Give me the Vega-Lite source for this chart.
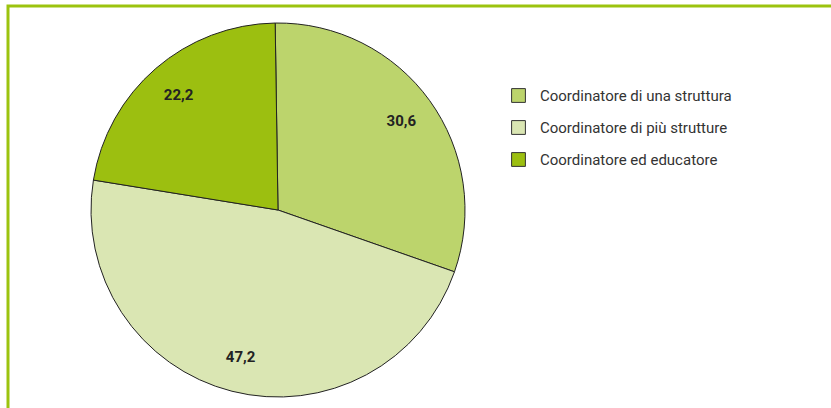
{
  "$schema": "https://vega.github.io/schema/vega-lite/v6.json",
  "autosize": "none",
  "width": 840,
  "height": 430,
  "padding": {"left": 8, "top": 6, "right": 0, "bottom": 0},
  "background": "white",
  "config": {
    "view": {"stroke": "#9cc30e", "strokeWidth": 3},
    "font": "Roboto"
  },
  "data": {
    "values": [
      {"categoria": "Coordinatore di una struttura", "valore": 30.6, "etichetta": "30,6", "ordine": 1},
      {"categoria": "Coordinatore di più strutture", "valore": 47.2, "etichetta": "47,2", "ordine": 2},
      {"categoria": "Coordinatore ed educatore", "valore": 22.2, "etichetta": "22,2", "ordine": 3}
    ]
  },
  "encoding": {
    "theta": {"field": "valore", "type": "quantitative", "stack": true, "scale": {"range": [-0.015, 6.268]}},
    "order": {"field": "ordine", "type": "quantitative"},
    "x": {"value": 270},
    "y": {"value": 204}
  },
  "layer": [
    {
      "mark": {"type": "arc", "outerRadius": 187, "stroke": "#222222", "strokeWidth": 1},
      "encoding": {
        "color": {
          "field": "categoria",
          "type": "nominal",
          "sort": null,
          "scale": {
            "domain": ["Coordinatore di una struttura", "Coordinatore di più strutture", "Coordinatore ed educatore"],
            "range": ["#bcd46c", "#dae6b3", "#9cbf10"]
          },
          "legend": {
            "title": null,
            "orient": "none",
            "legendX": 503,
            "legendY": 82,
            "symbolType": "square",
            "symbolSize": 190,
            "symbolStrokeColor": "#333333",
            "symbolStrokeWidth": 1,
            "labelFont": "Roboto",
            "labelFontSize": 15,
            "labelColor": "#333333",
            "labelOffset": 14,
            "rowPadding": 13,
            "labelLimit": 400
          }
        }
      }
    },
    {
      "mark": {"type": "text", "radius": 152, "font": "Roboto", "fontSize": 15, "fontWeight": "bold", "fill": "#222222"},
      "encoding": {
        "text": {"field": "etichetta", "type": "nominal"}
      }
    }
  ]
}
